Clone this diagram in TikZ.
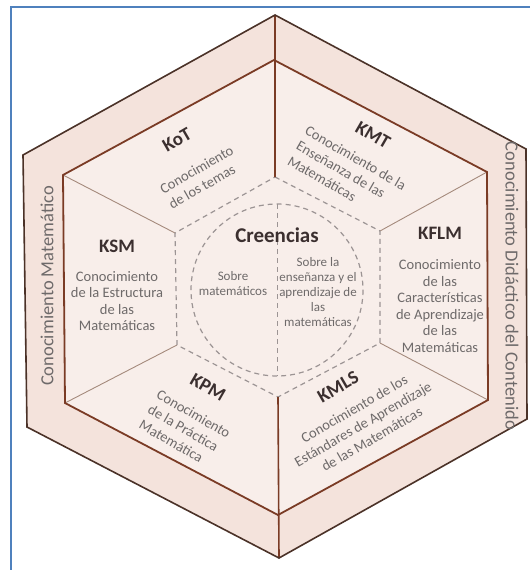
\documentclass[tikz,border=0pt]{standalone}
\usepackage{fontspec}
\setmainfont{Carlito}
\definecolor{band}{HTML}{F4E3DC}
\definecolor{core}{HTML}{F8EEEA}
\definecolor{edge}{HTML}{4B3228}
\definecolor{rim}{HTML}{7A3B25}
\definecolor{spoke}{HTML}{A58A7C}
\definecolor{dashgray}{HTML}{9C9494}
\definecolor{frame}{HTML}{4F81BD}
\definecolor{ink}{HTML}{3B2F2F}
\definecolor{grey}{HTML}{6E6A6A}
\tikzset{
  head/.style={font=\bfseries\fontsize{19}{21}\selectfont,text=ink,inner sep=0pt},
  txt/.style={font=\fontsize{14.5}{16.5}\selectfont,text=grey,inner sep=0pt},
  slant/.style={font=\fontsize{14.5}{17.5}\selectfont,text=grey,inner sep=0pt},
  small/.style={font=\fontsize{13}{15}\selectfont,text=grey,inner sep=0pt,align=center},
  side/.style={font=\fontsize{18.5}{20}\selectfont,text=grey,inner sep=0pt},
  dashline/.style={draw=dashgray,line width=1.2pt,dash pattern=on 5pt off 4pt}
}
\begin{document}
\begin{tikzpicture}[x=1pt,y=-1pt]
\useasboundingbox (0,0) rectangle (530,570);
\draw[frame,line width=1.5pt] (11,570) -- (11,7) -- (530,7);

\coordinate (o1) at (275,15); \coordinate (o2) at (526,149); \coordinate (o3) at (527,419); \coordinate (o4) at (279,558); \coordinate (o5) at (27,427); \coordinate (o6) at (23,155);
\coordinate (i1) at (274,60); \coordinate (i2) at (487,172); \coordinate (i3) at (488,400); \coordinate (i4) at (278,515); \coordinate (i5) at (65,403); \coordinate (i6) at (63,175);
\coordinate (d1) at (275,177); \coordinate (d2) at (380,231); \coordinate (d3) at (380,343); \coordinate (d4) at (278,397); \coordinate (d5) at (177,345); \coordinate (d6) at (175,233);
\coordinate (c) at (277,290);

\fill[band] (o1) -- (o2) -- (o3) -- (o4) -- (o5) -- (o6) -- cycle;
\fill[core] (i1) -- (i2) -- (i3) -- (i4) -- (i5) -- (i6) -- cycle;
\draw[spoke,line width=0.9pt] (i2) -- (d2) (i3) -- (d3) (i5) -- (d5) (i6) -- (d6);
\draw[dashline] (d1) -- (d2) -- (d3) -- (d4) -- (d5) -- (d6) -- cycle;
\draw[dashline] (c) circle (86);
\draw[dashline,line width=0.9pt] (277,204) -- (277,376);
\draw[rim,line width=1.6pt] (o1) -- (d1) (o4) -- (d4);
\draw[rim,line width=1.8pt,line join=miter] (i1) -- (i2) -- (i3) -- (i4) -- (i5) -- (i6) -- cycle;
\draw[edge,line width=1.6pt,line join=miter] (o1) -- (o2) -- (o3) -- (o4) -- (o5) -- (o6) -- cycle;

\node[side,rotate=90] (cm) at (47,286) {Conocimiento Matemático};
\node[side,rotate=-90] (cdc) at (512,286) {Conocimiento Didáctico del Contenido};

\node[head,rotate=30] (kot) at (177,140) {KoT};
\node[slant,rotate=30,align=left] (kotb) at (201,177) {Conocimiento\\de los temas};
\node[head,rotate=-30] (kmt) at (373,135) {KMT};
\node[slant,rotate=-30,align=left] (kmtb) at (347,173) {Conocimiento de la\\Enseñanza de las\\Matemáticas};
\node[head] (ksm) at (117,246) {KSM};
\node[txt,align=center] (ksmb) at (117,301) {Conocimiento\\de la Estructura\\de las\\Matemáticas};
\node[head] (kflm) at (440,233) {KFLM};
\node[txt,align=center] (kflmb) at (440,306) {Conocimiento\\de las\\Características\\de Aprendizaje\\de las\\Matemáticas};
\node[head,rotate=-30] (kpm) at (208,387) {KPM};
\node[slant,rotate=-30,align=left] (kpmb) at (185,429) {Conocimiento\\de la Práctica\\Matemática};
\node[head,rotate=30] (kmls) at (338,387) {KMLS};
\node[slant,rotate=30,align=center] (kmlsb) at (363,424) {Conocimiento de los\\Estándares de Aprendizaje\\de las Matemáticas};

\node[head,font=\bfseries\fontsize{21}{23}\selectfont] (cre) at (277,235) {Creencias};
\node[small] (crl) at (233,284) {Sobre\\matemáticos};
\node[small] (crr) at (318,292) {Sobre la\\enseñanza y el\\aprendizaje de\\las\\matemáticas};
\end{tikzpicture}
\end{document}
